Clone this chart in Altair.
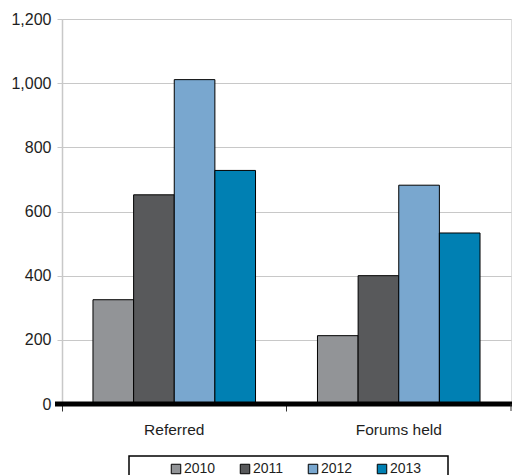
import altair as alt
import pandas as pd

# Values per activity and year
categories = ["Referred", "Forums held"]
years = ["2010", "2011", "2012", "2013"]
referred = [325, 652, 1011, 728]
forums = [213, 400, 682, 533]
year_colors = ["#929497", "#58595b", "#79a7cf", "#0080b3"]

rows = []
for cat, vals in zip(categories, [referred, forums]):
    for yr, v in zip(years, vals):
        rows.append({"category": cat, "year": yr, "value": v})
df = pd.DataFrame(rows)

W, H = 449, 385
FONT = "Liberation Sans"
TEXT = "#1e1e1e"

bars = alt.Chart(df).mark_bar(stroke="black", strokeWidth=1).encode(
    x=alt.X(
        "category:N",
        sort=categories,
        title=None,
        scale=alt.Scale(paddingInner=0.276, paddingOuter=0.138),
        axis=alt.Axis(
            labelAngle=0,
            domain=False,
            ticks=True,
            tickColor="#333333",
            tickSize=7,
            tickWidth=1,
            bandPosition=-0.19,
            labelPadding=11,
            labelFontSize=15.5,
            labelFont=FONT,
            labelColor=TEXT,
        ),
    ),
    xOffset=alt.XOffset("year:N", sort=years, scale=alt.Scale(paddingInner=0, paddingOuter=0)),
    y=alt.Y(
        "value:Q",
        title=None,
        scale=alt.Scale(domain=[0, 1200], nice=False),
        axis=alt.Axis(
            values=[0, 200, 400, 600, 800, 1000, 1200],
            format=",.0f",
            domainColor="#c8c8c8",
            domainWidth=1.5,
            tickColor="#c8c8c8",
            tickSize=5,
            gridColor="#c8c8c8",
            gridWidth=1.2,
            labelPadding=6,
            labelFontSize=16,
            labelFont=FONT,
            labelColor=TEXT,
        ),
    ),
    color=alt.Color(
        "year:N",
        sort=years,
        scale=alt.Scale(domain=years, range=year_colors),
        legend=alt.Legend(
            title=None,
            orient="none",
            direction="horizontal",
            legendX=107,
            legendY=443,
            symbolType="square",
            symbolSize=90,
            symbolStrokeColor="black",
            symbolStrokeWidth=1,
            symbolOpacity=1,
            labelFontSize=14,
            labelFont=FONT,
            labelColor=TEXT,
            labelOffset=1,
            columnPadding=22,
            padding=0,
        ),
    ),
)

# Heavy category baseline along zero
baseline = alt.Chart(alt.Data(values=[{}])).mark_rule(color="black", strokeWidth=5).encode(
    x=alt.value(-7), x2=alt.value(W + 1), y=alt.value(H)
)

# Tick at the far right category boundary
end_tick = alt.Chart(alt.Data(values=[{}])).mark_rule(color="#333333", strokeWidth=1).encode(
    x=alt.value(W), y=alt.value(H), y2=alt.value(H + 7)
)

# Frame around the legend
legend_box = alt.Chart(alt.Data(values=[{}])).mark_rect(
    fill="white", stroke="black", strokeWidth=1.5
).encode(
    x=alt.value(67), x2=alt.value(386), y=alt.value(437), y2=alt.value(462)
)

chart = alt.layer(legend_box, bars, baseline, end_tick).properties(
    width=W,
    height=H,
    autosize=alt.AutoSizeParams(type="none"),
    padding={"left": 62, "top": 19, "right": 1, "bottom": 71},
).configure_view(stroke="#c8c8c8", strokeWidth=1.5).configure(background="white")

chart.save("out.html", embed_options={"renderer": "svg", "actions": False})
